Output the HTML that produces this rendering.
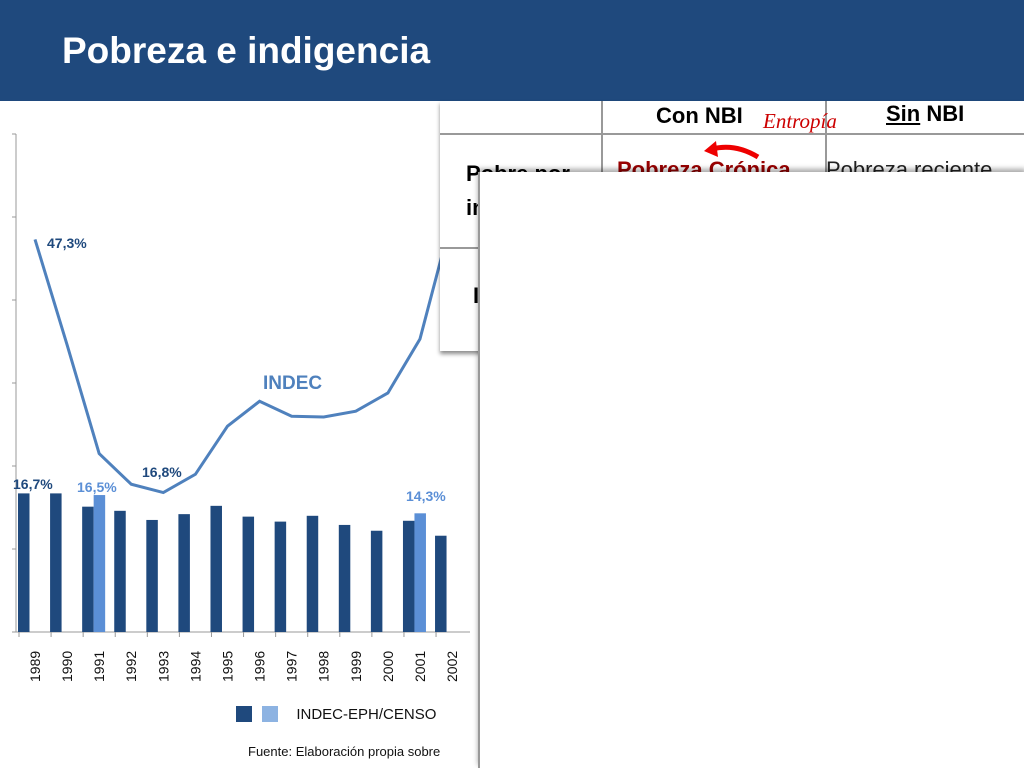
<!DOCTYPE html>
<html><head><meta charset="utf-8"><style>
body{margin:0;width:1024px;height:768px;overflow:hidden;background:#fff;font-family:"Liberation Sans",sans-serif;position:relative}
.abs{position:absolute}
</style></head><body>
<div class="abs" style="left:0;top:0;width:1024px;height:101px;background:#1f497d"></div>
<div class="abs" style="left:62px;top:30px;color:#fff;font-size:37px;font-weight:bold">Pobreza e indigencia</div>

<svg class="abs" style="left:0;top:0" width="1024" height="768">
<g id="chart"></g>
</svg>

<div class="abs" style="left:440px;top:101px;width:584px;height:250px;background:#fff;box-shadow:0 3px 4px rgba(0,0,0,0.45)">
 <div class="abs" style="left:0;top:32px;width:584px;height:2px;background:#999"></div>
 <div class="abs" style="left:0;top:146px;width:584px;height:2px;background:#999"></div>
 <div class="abs" style="left:161px;top:0;width:2px;height:250px;background:#999"></div>
 <div class="abs" style="left:385px;top:0;width:2px;height:250px;background:#999"></div>
 <div class="abs" style="left:216px;top:2px;font-size:22px;font-weight:bold">Con NBI</div>
 <div class="abs" style="left:446px;top:0px;font-size:22px;font-weight:bold"><u>Sin</u> NBI</div>
 <div class="abs" style="left:323px;top:8px;font-size:21px;color:#c00;font-family:'Liberation Serif',serif;font-style:italic">Entropía</div>
 <div class="abs" style="left:26px;top:56px;font-size:22px;font-weight:bold;line-height:34px">Pobre por<br>in</div>
 <div class="abs" style="left:177px;top:56px;font-size:22px;font-weight:bold;color:#900">Pobreza Crónica</div>
 <div class="abs" style="left:386px;top:56px;font-size:22px;color:#222">Pobreza reciente</div>
 <div class="abs" style="left:33px;top:182px;font-size:22px;font-weight:bold">I</div>
</div>
<svg class="abs" style="left:700px;top:135px" width="70" height="30"><path d="M58 22 Q35 8 12 14" stroke="#e00" stroke-width="5" fill="none"/><path d="M4 16 L16 6 L18 22 Z" fill="#e00"/></svg>

<div class="abs" style="left:478px;top:172px;width:546px;height:596px;background:#fff;border-left:2px solid #999;box-shadow:0 -3px 5px rgba(0,0,0,0.35)"></div>

<div class="abs" style="left:236px;top:706px;font-size:15px;color:#111">
 <span style="display:inline-block;width:16px;height:16px;background:#1f497d;vertical-align:-3px"></span>
 <span style="display:inline-block;width:16px;height:16px;background:#8db3e2;vertical-align:-3px;margin-left:6px"></span>
 <span style="margin-left:14px">INDEC-EPH/CENSO</span></div>
<div class="abs" style="left:248px;top:744px;font-size:13px;color:#111;white-space:nowrap">Fuente: Elaboración propia sobre</div>

<script>
const years=["1989","1990","1991","1992","1993","1994","1995","1996","1997","1998","1999","2000","2001","2002"];
const lineVals=[47.3,34.6,21.5,17.8,16.8,19.0,24.8,27.8,26.0,25.9,26.6,28.8,35.3,50.0];
const darkVals=[16.7,16.7,15.1,14.6,13.5,14.2,15.2,13.9,13.3,14.0,12.9,12.2,13.4,11.6];
const lightVals=[null,null,16.5,null,null,null,null,null,null,null,null,null,14.3,null];
const yTicks=[0,10,20,30,40,50,60];
const NS="http://www.w3.org/2000/svg";
const g=document.getElementById('chart');
const x=i=>35+i*32.08, y=v=>632-v*8.3;
function mk(t,a){const e=document.createElementNS(NS,t);for(const k in a)e.setAttribute(k,a[k]);g.appendChild(e);return e;}
let ax=mk('line',{x1:16,y1:y(60),x2:16,y2:632,stroke:'#999'});


yTicks.forEach(t=>{const l=mk('line',{x1:12,x2:16,y1:y(t),y2:y(t),stroke:'#999'});

});
let xa=mk('line',{x1:16,y1:632,x2:470,y2:632,stroke:'#999'});


years.forEach((yr,i)=>{
 const c=x(i);
 const tk=mk('line',{x1:c-16,x2:c-16,y1:632,y2:637,stroke:'#999'});
 
 
 const b=mk('rect',{x:c-17,y:y(darkVals[i]),width:11.5,height:632-y(darkVals[i]),fill:'#1f497d'});
 
 
 if(lightVals[i]!=null){const lb=mk('rect',{x:c-5.5,y:y(lightVals[i]),width:11.5,height:632-y(lightVals[i]),fill:'#5b8fd6'});
 
 }
 const t=mk('text',{x:0,y:0,'font-size':14,fill:'#111',transform:`translate(${c+5},682) rotate(-90)`,'font-family':'Liberation Sans'});
 t.textContent=yr;
 
 
});
const p=mk('polyline',{points:lineVals.map((v,i)=>x(i)+','+y(v)).join(' '),fill:'none',stroke:'#4f81bd','stroke-width':3});


function lab(txt,xx,yy,col,sz,nm){const t=mk('text',{x:xx,y:yy,fill:col,'font-size':sz,'font-weight':'bold','font-family':'Liberation Sans'});t.textContent=txt;

}
lab(lineVals[0].toFixed(1).replace('.',',')+'%',47,248,'#1f497d',14,'label-1989-line');
lab(darkVals[0].toFixed(1).replace('.',',')+'%',13,489,'#1f497d',14,'label-1989-bar');
lab(lightVals[2].toFixed(1).replace('.',',')+'%',77,492,'#5b8fd6',14,'label-1991-light');
lab(lineVals[4].toFixed(1).replace('.',',')+'%',142,477,'#1f497d',14,'label-1993-line');
lab(lightVals[12].toFixed(1).replace('.',',')+'%',406,501,'#5b8fd6',14,'label-2001-light');
lab('INDEC',263,389,'#4f81bd',19,'series-label-indec');
</script>
</body></html>
